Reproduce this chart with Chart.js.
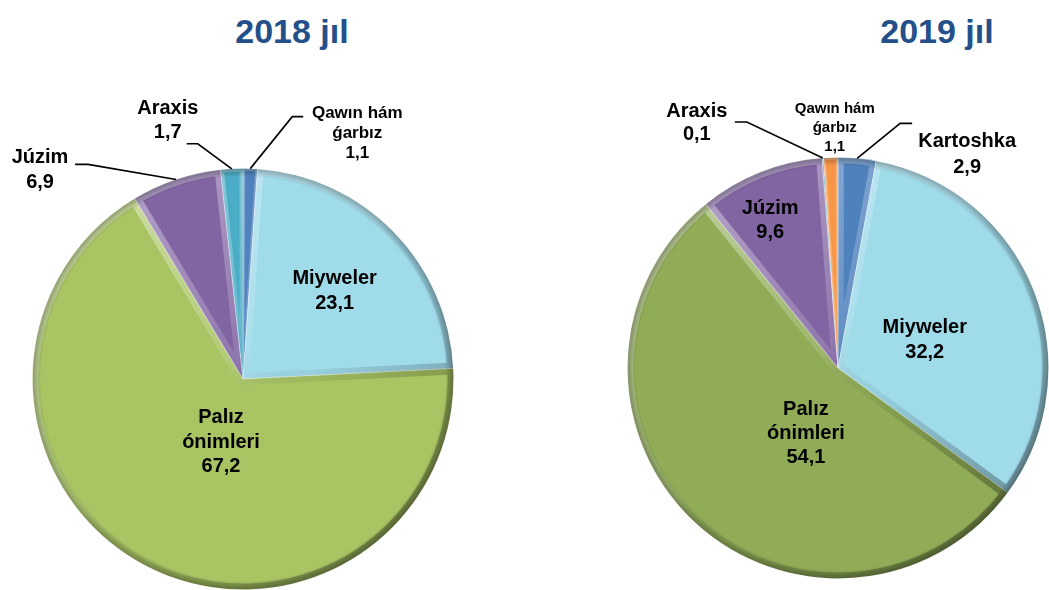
<!DOCTYPE html>
<html>
<head>
<meta charset="utf-8">
<script src="https://cdn.jsdelivr.net/npm/chart.js@4.4.1/dist/chart.umd.min.js"></script>
<style>
  html, body { margin: 0; padding: 0; background: #fff; overflow: hidden; }
  #wrap { position: relative; width: 1049px; height: 590px; }
  #wrap canvas { position: absolute; left: 0; top: 0; }
  .title {
    position: absolute; top: 14px; width: 200px; text-align: center;
    font-family: "Liberation Sans", Arial, sans-serif; font-weight: bold;
    font-size: 34px; line-height: 34px; color: #24508a;
  }
</style>
</head>
<body>
<div id="wrap">
  <div class="title" style="left:192px">2018 jıl</div>
  <div class="title" style="left:837px">2019 jıl</div>
  <canvas id="pie2018" width="1049" height="590"></canvas>
  <canvas id="pie2019" width="1049" height="590"></canvas>
</div>
<script>
// 2018 (clockwise from 12 o'clock)
const categories2018 = ['Qawın hám\nǵarbız', 'Miyweler', 'Palız\nónimleri', 'Júzim', 'Araxis'];
const values2018 = [1.1, 23.1, 67.2, 6.9, 1.7];
const colors2018 = ['#4f81bd', '#a0dbea', '#a8c463', '#8165a3', '#4bacc6'];

// 2019 (clockwise from 12 o'clock)
const categories2019 = ['Kartoshka', 'Miyweler', 'Palız\nónimleri', 'Júzim', 'Araxis', 'Qawın hám\nǵarbız'];
const values2019 = [2.9, 32.2, 54.1, 9.6, 0.1, 1.1];
const colors2019 = ['#4f81bd', '#a0dbea', '#90ac57', '#8165a3', '#4bacc6', '#f79646'];

// label placement: inside -> radius factor + angle shift; outside -> pixel offsets from rim point
const layout2018 = [
  { out: true, elbow: [42, -52], end: [53, -52], text: [107, -51], size: 17, lh: 20 },
  { f: 0.61, da: 0, size: 20, lh: 25 },
  { f: 0.31, da: -8.4, size: 20, lh: 24.5 },
  { out: true, elbow: [-88, -15], end: [-101, -15], text: [-136, -16], size: 20, lh: 25 },
  { out: true, elbow: [-34, -25], end: [-45, -25], text: [-64, -55], size: 20, lh: 24 }
];
const layout2019 = [
  { out: true, elbow: [43, -35], end: [55, -35], text: [110, -11], size: 20, lh: 26 },
  { f: 0.436, da: 2.6, size: 20, lh: 25 },
  { f: 0.34, da: -17.1, size: 20, lh: 24 },
  { f: 0.78, da: -2.8, size: 20, lh: 24 },
  { out: true, elbow: [-76, -36], end: [-88, -36], text: [-126, -41], size: 20, lh: 23 },
  { out: true, text: [4, -45], size: 15, lh: 19 }
];

const fmt = v => v.toFixed(1).replace('.', ',');

// soft bevel look on every slice
const bevelPlugin = {
  id: 'bevel',
  afterDatasetsDraw(chart) {
    const ctx = chart.ctx;
    chart.getDatasetMeta(0).data.forEach(arc => {
      const p = arc.getProps(['x', 'y', 'startAngle', 'endAngle', 'outerRadius']);
      const r = p.outerRadius;
      const rimLen = r * (p.endAngle - p.startAngle);
      if (rimLen < 3) return;
      ctx.save();
      ctx.beginPath();
      ctx.moveTo(p.x, p.y);
      ctx.arc(p.x, p.y, r, p.startAngle, p.endAngle);
      ctx.closePath();
      ctx.clip();
      const g = ctx.createLinearGradient(p.x - r * 0.7, p.y - r * 0.7, p.x + r * 0.7, p.y + r * 0.7);
      g.addColorStop(0, 'rgba(255,255,255,0.38)');
      g.addColorStop(0.45, 'rgba(255,255,255,0.12)');
      g.addColorStop(0.6, 'rgba(0,0,0,0.05)');
      g.addColorStop(1, 'rgba(0,0,0,0.3)');
      ctx.lineWidth = Math.min(12, rimLen * 0.3);
      ctx.lineJoin = 'round';
      ctx.strokeStyle = g;
      ctx.stroke();
      const rg = ctx.createRadialGradient(p.x, p.y, r * 0.96, p.x, p.y, r);
      rg.addColorStop(0, 'rgba(0,0,0,0)');
      rg.addColorStop(1, 'rgba(0,0,0,0.28)');
      ctx.fillStyle = rg;
      ctx.fill();
      ctx.restore();
    });
  }
};

const labelPlugin = {
  id: 'sliceLabels',
  afterDatasetsDraw(chart, args, opts) {
    const ctx = chart.ctx;
    const labels = chart.data.labels;
    const data = chart.data.datasets[0].data;
    chart.getDatasetMeta(0).data.forEach((arc, i) => {
      const L = opts.layout[i];
      const p = arc.getProps(['x', 'y', 'startAngle', 'endAngle', 'outerRadius']);
      const lines = labels[i].split('\n').concat(fmt(data[i]));
      const mid = (p.startAngle + p.endAngle) / 2;
      ctx.save();
      ctx.fillStyle = '#000';
      ctx.font = 'bold ' + L.size + 'px "Liberation Sans", Arial, sans-serif';
      ctx.textAlign = 'center';
      ctx.textBaseline = 'alphabetic';
      let tx, ty;
      if (L.out) {
        const ax = p.x + Math.cos(mid) * p.outerRadius;
        const ay = p.y + Math.sin(mid) * p.outerRadius;
        if (L.elbow) {
          ctx.strokeStyle = '#000';
          ctx.lineWidth = 1.6;
          ctx.beginPath();
          ctx.moveTo(ax, ay);
          ctx.lineTo(ax + L.elbow[0], ay + L.elbow[1]);
          ctx.lineTo(ax + L.end[0], ay + L.end[1]);
          ctx.stroke();
        }
        tx = ax + L.text[0];
        ty = ay + L.text[1];
      } else {
        const a = mid + L.da * Math.PI / 180;
        const cx = p.x + Math.cos(a) * p.outerRadius * L.f;
        const cy = p.y + Math.sin(a) * p.outerRadius * L.f;
        tx = cx;
        ty = cy - (lines.length - 1) * L.lh / 2 + L.size * 0.36;
      }
      lines.forEach((t, k) => ctx.fillText(t, tx, ty + k * L.lh));
      ctx.restore();
    });
  }
};

function makePie(id, labels, values, colors, layout, padding) {
  return new Chart(document.getElementById(id), {
    type: 'pie',
    data: {
      labels: labels,
      datasets: [{
        data: values,
        backgroundColor: colors,
        borderColor: 'rgba(255,255,255,0.35)',
        borderWidth: 1
      }]
    },
    options: {
      responsive: false,
      animation: false,
      events: [],
      layout: { padding: padding },
      plugins: {
        legend: { display: false },
        tooltip: { enabled: false },
        sliceLabels: { layout: layout }
      }
    },
    plugins: [bevelPlugin, labelPlugin]
  });
}

makePie('pie2018', categories2018, values2018, colors2018, layout2018,
  { left: 32, right: 595, top: 168, bottom: 0 });
makePie('pie2019', categories2019, values2019, colors2019, layout2019,
  { left: 627, right: 0, top: 157, bottom: 11 });
</script>
</body>
</html>
